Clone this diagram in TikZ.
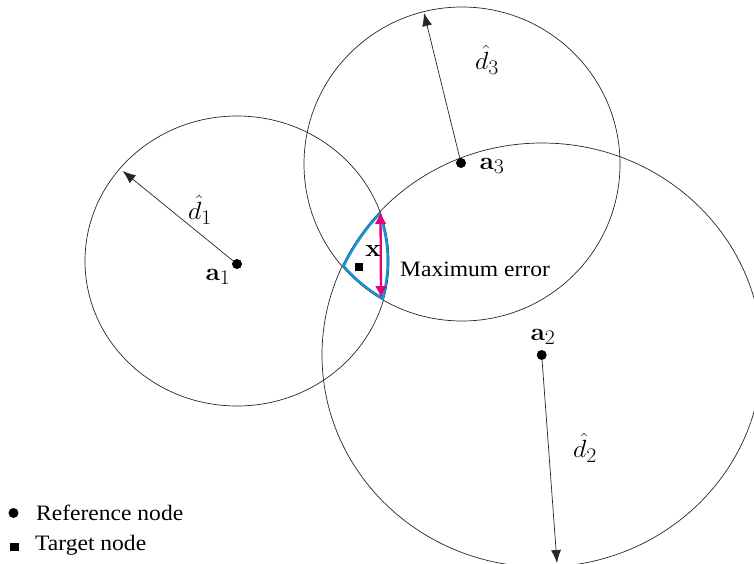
\documentclass[tikz,border=0pt]{standalone}
\usepackage[no-math]{fontspec}
\usepackage{graphicx}
\setmainfont{Liberation Serif}
\newfontfamily\txtfont[FakeStretch=1.07]{Liberation Serif}
\usetikzlibrary{arrows.meta}
\definecolor{lensblue}{RGB}{20,150,210}
\definecolor{errmag}{RGB}{230,0,126}
\newcommand{\mth}[1]{\scalebox{1.05}[1]{$#1$}}
\tikzset{
  ring/.style={draw=black!85, line width=0.7pt},
  refdot/.style={circle, fill=black, inner sep=0pt, minimum size=10pt},
  tgtsq/.style={rectangle, fill=black, inner sep=0pt, minimum size=8.5pt},
  radarrow/.style={draw=black!85, line width=0.7pt, -{Latex[length=13pt,width=10pt]}},
  errarrow/.style={draw=errmag, line width=2.3pt, {Latex[length=12pt,width=12pt]}-{Latex[length=12pt,width=12pt]}},
  lensline/.style={draw=lensblue, line width=5pt},
  mlabel/.style={inner sep=0pt, font=\fontsize{28}{32}\selectfont},
  tlabel/.style={inner sep=0pt, font=\txtfont\fontsize{22}{26}\selectfont}
}
\begin{document}
\begin{tikzpicture}[x=1pt,y=-1pt]
\useasboundingbox (0,0) rectangle (754,563);
\clip (0,0) rectangle (754,563);
% circles
\def\CA{(237,261) ellipse [x radius=152pt, y radius=145pt]}
\def\CB{(542,355) ellipse [x radius=220pt, y radius=212pt]}
\def\CC{(462,164) ellipse [x radius=158pt, y radius=157pt]}
\draw[ring] \CA;
\draw[ring] \CB;
\draw[ring] \CC;
% lens: inner halves of the three strokes
\begin{scope}
  \clip \CA; \clip \CB; \clip \CC;
  \draw[lensline] \CA;
  \draw[lensline] \CB;
  \draw[lensline] \CC;
\end{scope}
% anchors
\node[refdot] (a1) at (237,264) {};
\node[refdot] (a2) at (541.7,355) {};
\node[refdot] (a3) at (461,163) {};
\coordinate (e1) at (122.7,171);
\coordinate (e2) at (557,563);
\coordinate (e3) at (424,13);
\draw[radarrow] (a1) -- (e1);
\draw[radarrow] (a2) -- (e2);
\draw[radarrow] (a3) -- (e3);
% labels
\node[mlabel] (l1) at (200,210) {\mth{\hat{d}_1}};
\node[mlabel] (l2) at (585,448) {\mth{\hat{d}_2}};
\node[mlabel] (l3) at (487,60) {\mth{\hat{d}_3}};
\node[mlabel] (n1) at (218,277) {\mth{\mathbf{a}_1}};
\node[mlabel] (n2) at (543,337) {\mth{\mathbf{a}_2}};
\node[mlabel] (n3) at (492,166) {\mth{\mathbf{a}_3}};
% target
\node[tgtsq] (x) at (359,267) {};
\node[mlabel] (xl) at (373,251) {\mth{\mathbf{x}}};
% error
\coordinate (t1) at (380.5,212);
\coordinate (t2) at (381,298);
\draw[errarrow] (t1) -- (t2);
\node[tlabel, anchor=west] (me) at (400,269) {Maximum error};
% legend
\node[refdot] (lg1) at (13.5,513) {};
\node[tlabel, anchor=west] (lt1) at (36,513) {Reference node};
\node[tgtsq] (lg2) at (14.5,547) {};
\node[tlabel, anchor=west] (lt2) at (35,545) {Target node};
\end{tikzpicture}
\end{document}
